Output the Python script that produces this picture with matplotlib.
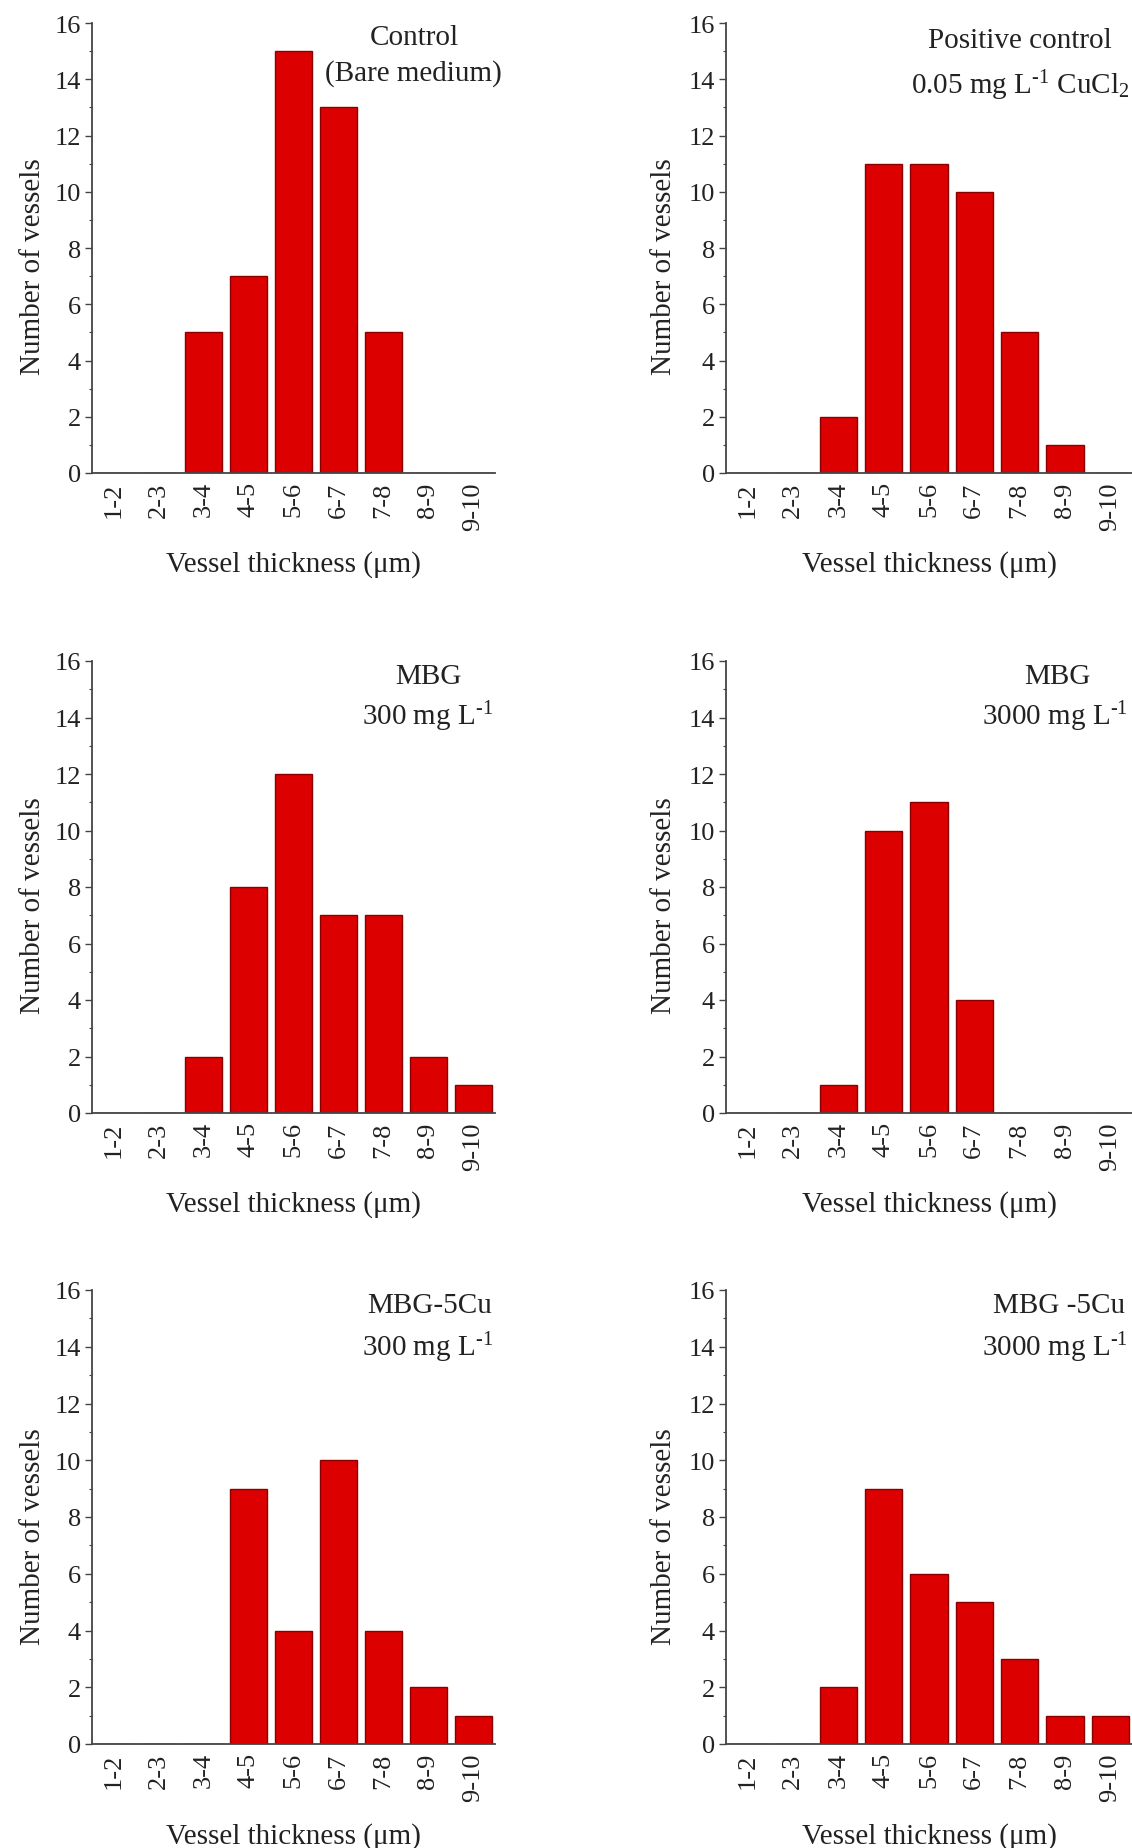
import numpy as np
import matplotlib
matplotlib.use('Agg')
import matplotlib.pyplot as plt
from matplotlib.ticker import MultipleLocator

plt.rcParams['font.family'] = ['Liberation Serif', 'DejaVu Serif']
plt.rcParams['mathtext.fontset'] = 'custom'
plt.rcParams['mathtext.rm'] = 'Liberation Serif'
plt.rcParams['mathtext.it'] = 'Liberation Serif:italic'

# bins of vessel thickness
bins = ['1-2', '2-3', '3-4', '4-5', '5-6', '6-7', '7-8', '8-9', '9-10']

control = [0, 0, 5, 7, 15, 13, 5, 0, 0]
positive = [0, 0, 2, 11, 11, 10, 5, 1, 0]
mbg_300 = [0, 0, 2, 8, 12, 7, 7, 2, 1]
mbg_3000 = [0, 0, 1, 10, 11, 4, 0, 0, 0]
mbgcu_300 = [0, 0, 0, 9, 4, 10, 4, 2, 1]
mbgcu_3000 = [0, 0, 2, 9, 6, 5, 3, 1, 1]

sup = '$^{\u2010 1}$'  # small hyphen-style superscript like the original
titles = [
    ('Control', '(Bare medium)'),
    ('Positive control', '0.05 mg L' + sup + ' CuCl$_2$'),
    ('MBG', '300 mg L' + sup),
    ('MBG', '3000 mg L' + sup),
    ('MBG-5Cu', '300 mg L' + sup),
    ('MBG -5Cu', '3000 mg L' + sup),
]
series = [control, positive, mbg_300, mbg_3000, mbgcu_300, mbgcu_3000]

W, H = 1132, 1849
fig = plt.figure(figsize=(W / 100, H / 100), dpi=100)

# axes boxes in pixels
cols = [(92, 495), (726, 1132)]
rows = [(24, 474), (662, 1114), (1291, 1745)]
text_x = [(0.80, 0.797), (0.724, 0.724), (0.834, 0.832), (0.815, 0.81),
          (0.838, 0.832), (0.82, 0.81)]
text_y = [(0.969, 0.891), (0.962, 0.862), (0.967, 0.878), (0.967, 0.878),
          (0.967, 0.874), (0.967, 0.874)]

txtc = '#222222'
x = np.arange(len(bins))
for i, vals in enumerate(series):
    r, c = divmod(i, 2)
    l, rr = cols[c]
    t, b = rows[r]
    ax = fig.add_axes([l / W, 1 - b / H, (rr - l) / W, (b - t) / H])
    ax.bar(x, vals, width=0.82, color='#dc0000', edgecolor='#8a0000', linewidth=1.0)
    ax.set_xlim(-0.48, 8.48)
    ax.set_ylim(0, 16)
    ax.yaxis.set_major_locator(MultipleLocator(2))
    ax.yaxis.set_minor_locator(MultipleLocator(1))
    ax.set_xticks(x)
    ax.set_xticklabels(bins, rotation=90, fontsize=19, color=txtc)
    ax.tick_params(axis='x', length=0, pad=6)
    ax.tick_params(axis='y', which='major', length=5, width=1, labelsize=19,
                   colors='#444444', labelcolor=txtc, pad=3)
    ax.tick_params(axis='y', which='minor', length=2.5, width=0.8, colors='#444444')
    for s in ['top', 'right']:
        ax.spines[s].set_visible(False)
    for s in ['left', 'bottom']:
        ax.spines[s].set_color('#444444')
        ax.spines[s].set_linewidth(1.3)
    ax.set_xlabel('Vessel thickness (\u03bcm)', fontsize=21, color=txtc)
    ax.set_ylabel('Number of vessels', fontsize=21, color=txtc)
    ax.xaxis.set_label_coords(0.5, -0.171)
    ax.yaxis.set_label_coords(-0.114 if c == 0 else -0.12, 0.46)
    l1, l2 = titles[i]
    ax.text(text_x[i][0], text_y[i][0], l1, transform=ax.transAxes, ha='center',
            va='center', fontsize=21, color=txtc)
    ax.text(text_x[i][1], text_y[i][1], l2, transform=ax.transAxes, ha='center',
            va='center', fontsize=21, color=txtc)
    ax.set_facecolor('none')

fig.savefig('out.png', dpi=100, facecolor='white')
